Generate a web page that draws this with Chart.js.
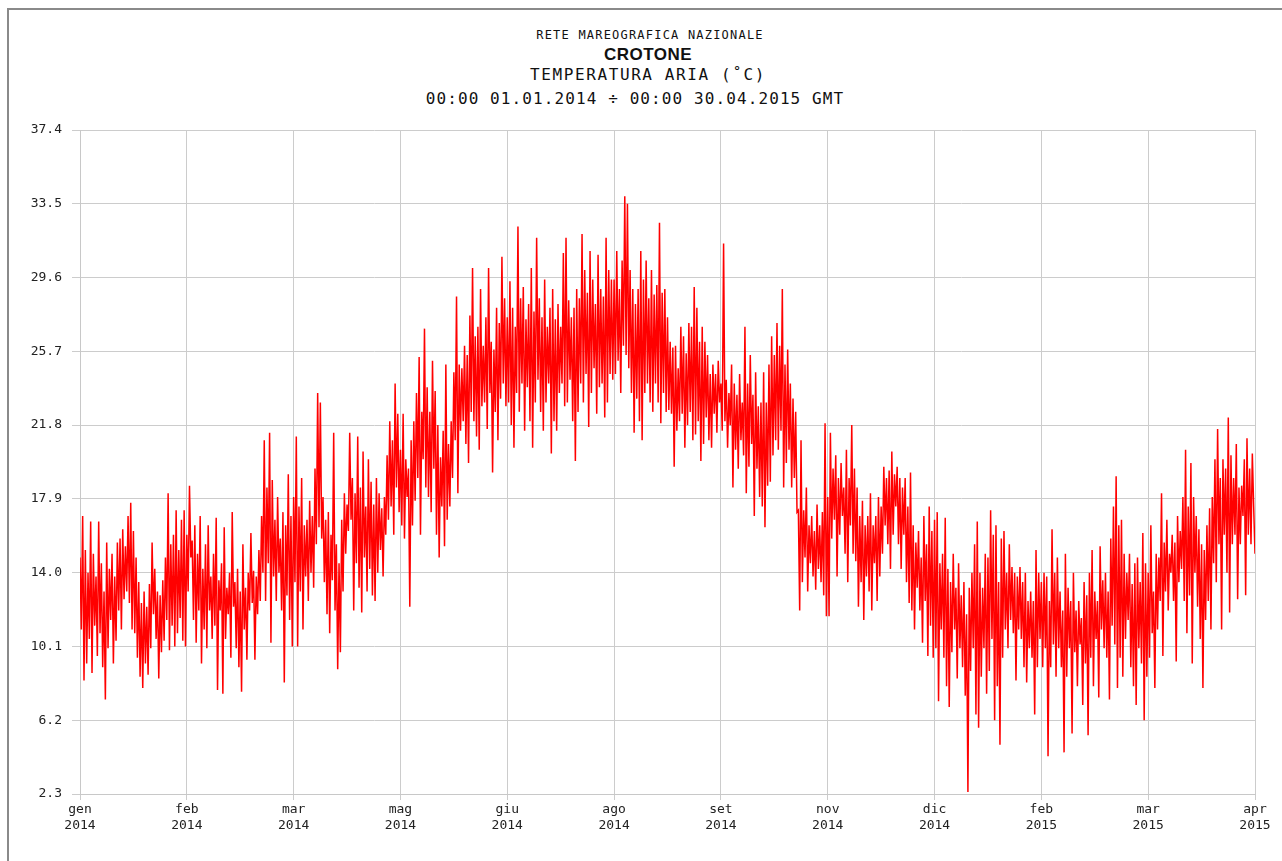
<!DOCTYPE html>
<html>
<head>
<meta charset="utf-8">
<script src="https://cdn.jsdelivr.net/npm/chart.js@4.4.1/dist/chart.umd.min.js"></script>
<style>
  body { margin: 0; background: #fff; }
  #wrap { position: relative; width: 1282px; height: 861px; overflow: hidden; }
  #frame { position: absolute; left: 7px; top: 8px; width: 1300px; height: 900px; border-left: 2px solid #8a8a8a; border-top: 2px solid #8a8a8a; }
  .t { position: absolute; left: 0; width: 1290px; text-align: center; color: #111; white-space: nowrap; }
  #t1 { top: 28px; font: 12px "DejaVu Sans Mono", monospace; letter-spacing: 1.2px; left: 5px; }
  #t2 { top: 45px; font: bold 17px "Liberation Sans", Arial, sans-serif; letter-spacing: 0.5px; left: 3px; }
  #t3 { top: 65px; font: 16px "DejaVu Sans Mono", monospace; letter-spacing: 1.6px; left: 3px; }
  #t4 { top: 89px; font: 16px "DejaVu Sans Mono", monospace; letter-spacing: 1.1px; left: -10px; }
  canvas { position: absolute; left: 0; top: 0; }
</style>
</head>
<body>
<div id="wrap">
  <div id="frame"></div>
  <div class="t" id="t1">RETE MAREOGRAFICA NAZIONALE</div>
  <div class="t" id="t2">CROTONE</div>
  <div class="t" id="t3">TEMPERATURA ARIA (˚C)</div>
  <div class="t" id="t4">00:00 01.01.2014 ÷ 00:00 30.04.2015 GMT</div>
  <canvas id="chart" width="1282" height="861"></canvas>
</div>
<script>
// tick labels of the time axis (one per grid line)
const monthLabels = ["gen", "feb", "mar", "mag", "giu", "ago", "set", "nov", "dic", "feb", "mar", "apr"];
const yearLabels = ["2014", "2014", "2014", "2014", "2014", "2014", "2014", "2014", "2014", "2015", "2015", "2015"];
const yTicks = [2.3, 6.2, 10.1, 14.0, 17.9, 21.8, 25.7, 29.6, 33.5, 37.4];

// air temperature, 40 high/low reading pairs per grid interval
const genHi = [14.8, 17.0, 15.2, 14.0, 16.7, 15.0, 13.8, 16.7, 14.5, 13.0, 15.6, 14.2, 15.0, 13.8, 15.6, 15.8, 16.3, 15.4, 17.0, 17.7,
  16.2, 14.8, 13.5, 12.4, 13.0, 12.2, 13.4, 15.6, 14.2, 13.0, 12.8, 13.6, 14.8, 18.2, 15.5, 16.0, 17.3, 15.2, 16.8, 17.3];
const genLo = [11.0, 8.3, 9.2, 10.5, 8.7, 11.2, 9.6, 10.8, 9.0, 7.3, 10.0, 11.5, 9.2, 10.4, 12.0, 11.0, 12.6, 13.0, 12.4, 11.0,
  10.8, 9.5, 8.5, 7.9, 9.2, 8.6, 10.0, 11.8, 10.5, 8.4, 9.8, 10.4, 11.5, 9.9, 11.2, 10.1, 10.8, 11.6, 10.4, 10.1];
const febHi = [16.0, 18.6, 15.7, 16.5, 15.0, 17.0, 14.2, 15.5, 16.5, 13.8, 15.0, 16.9, 13.6, 14.5, 16.4, 13.2, 14.0, 17.2, 13.5, 14.2,
  13.0, 15.5, 13.2, 14.0, 16.1, 14.1, 13.8, 15.2, 17.0, 21.0, 18.5, 21.4, 18.9, 16.8, 18.0, 15.8, 17.2, 16.5, 19.2, 17.0];
const febLo = [13.0, 14.8, 11.5, 10.3, 12.0, 9.2, 11.0, 10.0, 12.0, 10.5, 11.2, 7.8, 12.0, 7.6, 10.5, 11.8, 9.5, 12.2, 10.0, 9.0,
  7.7, 11.0, 9.4, 12.0, 12.4, 9.4, 11.8, 12.5, 14.0, 12.5, 14.5, 10.3, 13.8, 12.5, 14.0, 12.0, 8.2, 12.8, 11.5, 10.1];
const marHi = [18.0, 21.2, 17.5, 19.0, 16.5, 16.8, 17.8, 17.0, 19.5, 23.5, 23.0, 18.0, 16.8, 17.2, 16.0, 21.4, 15.5, 14.5, 16.8, 18.2,
  17.6, 21.4, 19.0, 18.2, 21.2, 18.5, 20.4, 17.5, 20.0, 18.8, 17.6, 19.0, 18.2, 17.4, 18.0, 20.2, 22.0, 21.0, 24.0, 22.4];
const marLo = [13.5, 10.1, 13.0, 11.0, 13.8, 12.5, 14.0, 13.2, 15.5, 16.4, 15.8, 13.5, 11.8, 10.8, 13.6, 12.0, 8.9, 9.8, 13.0, 15.0,
  16.2, 16.8, 12.0, 14.5, 13.2, 11.9, 14.8, 13.0, 14.2, 12.8, 12.5, 14.0, 15.2, 13.8, 16.0, 16.8, 17.5, 16.0, 18.5, 17.2];
const magHi = [20.5, 22.4, 20.0, 19.5, 21.0, 22.0, 23.5, 25.4, 22.5, 26.9, 23.8, 22.5, 25.2, 23.6, 21.8, 20.1, 21.5, 25.0, 20.8, 22.0,
  24.6, 28.6, 25.0, 24.8, 26.0, 25.5, 27.6, 30.1, 26.5, 27.0, 29.0, 26.0, 27.5, 30.1, 26.2, 25.8, 28.0, 27.2, 30.7, 28.5];
const magLo = [16.5, 15.8, 18.0, 12.2, 16.5, 17.8, 19.0, 16.0, 20.0, 18.5, 18.0, 17.2, 19.5, 16.0, 14.8, 17.5, 15.4, 16.8, 17.5, 19.0,
  21.0, 18.2, 21.5, 22.0, 20.8, 19.8, 22.5, 22.0, 21.2, 20.5, 22.8, 23.0, 21.6, 23.5, 19.3, 22.5, 21.0, 23.2, 24.0, 22.8];
const giuHi = [27.5, 29.4, 28.0, 27.0, 32.3, 28.5, 29.1, 27.4, 28.2, 30.1, 27.8, 31.7, 28.5, 27.5, 29.5, 27.0, 28.0, 29.0, 27.4, 28.2,
  27.0, 30.9, 31.7, 28.4, 27.5, 28.0, 29.0, 28.5, 31.9, 30.0, 28.8, 31.0, 29.5, 28.2, 30.8, 29.0, 28.6, 31.7, 30.0, 29.5];
const giuLo = [23.0, 21.8, 20.6, 23.5, 22.5, 24.0, 21.5, 23.8, 22.0, 20.6, 23.0, 24.2, 22.5, 21.5, 23.0, 24.0, 20.3, 22.0, 21.5, 23.5,
  24.0, 22.8, 23.0, 24.2, 22.0, 19.9, 22.5, 24.0, 23.0, 24.5, 21.7, 23.5, 24.8, 22.4, 23.8, 24.0, 22.2, 23.0, 24.5, 24.2];
const agoHi = [29.5, 31.0, 29.0, 30.5, 33.9, 33.5, 30.0, 29.0, 28.2, 29.0, 31.0, 29.5, 30.5, 28.5, 30.0, 28.7, 29.2, 32.5, 28.8, 29.0,
  27.5, 26.2, 25.9, 26.0, 24.8, 27.0, 26.5, 25.6, 27.2, 27.0, 29.1, 28.0, 26.2, 27.0, 26.2, 25.5, 24.5, 25.0, 24.5, 25.2];
const agoLo = [24.5, 25.2, 23.5, 26.0, 25.5, 24.8, 23.5, 21.4, 23.2, 22.0, 21.0, 23.5, 24.0, 23.0, 22.5, 24.0, 23.0, 21.9, 23.5, 22.5,
  22.6, 22.4, 19.6, 21.5, 22.0, 22.4, 20.6, 21.8, 22.5, 21.0, 21.3, 22.0, 19.9, 20.8, 22.2, 21.0, 20.6, 22.4, 21.4, 23.0];
const setHi = [24.0, 31.4, 24.2, 23.5, 25.0, 24.0, 23.4, 24.5, 23.0, 27.0, 24.0, 25.5, 23.4, 24.6, 22.8, 23.0, 24.6, 23.0, 25.0, 26.5,
  25.5, 27.2, 26.0, 29.0, 25.0, 25.8, 24.0, 23.2, 22.5, 17.3, 21.0, 17.3, 18.5, 16.5, 17.0, 16.2, 17.6, 16.5, 17.2, 21.9];
const setLo = [21.5, 22.0, 20.6, 21.8, 18.5, 20.5, 19.5, 21.0, 20.2, 18.2, 19.6, 20.8, 17.0, 19.5, 18.0, 17.5, 16.4, 18.6, 18.8, 20.2,
  21.0, 20.5, 21.5, 18.5, 19.8, 20.5, 18.5, 19.0, 17.2, 12.0, 13.5, 14.8, 13.0, 14.5, 13.8, 13.1, 14.2, 13.5, 12.8, 11.7];
const novHi = [18.0, 21.4, 19.5, 20.2, 19.0, 19.8, 18.5, 20.5, 19.0, 21.8, 19.5, 18.5, 17.0, 17.8, 16.5, 17.0, 18.2, 16.5, 17.0, 18.0,
  17.5, 19.6, 19.0, 19.4, 20.4, 19.2, 19.6, 19.0, 18.5, 19.0, 17.5, 19.3, 16.5, 15.6, 16.2, 14.8, 17.0, 15.5, 17.5, 16.2];
const novLo = [11.7, 15.8, 16.8, 13.8, 16.0, 17.0, 15.0, 13.5, 16.5, 15.0, 14.6, 12.2, 13.5, 11.5, 13.8, 13.0, 12.0, 14.5, 12.5, 13.8,
  15.0, 16.5, 15.5, 14.2, 16.0, 17.5, 15.5, 14.2, 16.0, 13.5, 12.4, 12.0, 11.0, 13.2, 12.0, 10.3, 12.5, 9.6, 11.2, 9.5];
const dicHi = [16.8, 17.2, 14.5, 15.0, 16.9, 14.2, 13.5, 15.0, 13.2, 14.5, 12.8, 13.5, 11.8, 13.2, 14.0, 15.5, 16.7, 14.0, 13.2, 15.0,
  14.8, 17.3, 16.0, 16.5, 13.5, 15.8, 16.2, 14.0, 15.5, 14.3, 14.0, 13.8, 14.3, 13.5, 14.0, 12.5, 13.0, 12.5, 15.2, 14.0];
const dicLo = [10.0, 7.2, 11.0, 9.5, 8.0, 6.9, 9.8, 11.0, 8.4, 10.0, 9.0, 7.5, 2.4, 8.8, 10.0, 6.5, 5.8, 8.5, 10.0, 7.6,
  8.8, 10.5, 6.2, 8.0, 4.9, 9.5, 11.0, 10.0, 11.5, 10.8, 8.3, 11.0, 10.5, 9.0, 8.2, 10.0, 9.5, 6.5, 9.0, 10.5];
const feb15Hi = [13.5, 14.0, 13.8, 12.5, 16.3, 14.0, 14.8, 13.0, 12.0, 15.0, 13.2, 12.5, 14.0, 12.0, 12.5, 11.6, 13.5, 12.8, 14.0, 15.2,
  13.0, 12.5, 15.4, 13.6, 14.0, 13.0, 15.8, 17.5, 19.1, 16.5, 16.8, 15.0, 14.0, 15.0, 13.4, 14.5, 14.8, 13.5, 16.1, 14.5];
const feb15Lo = [9.0, 10.0, 4.3, 9.0, 10.2, 8.5, 10.0, 9.0, 4.5, 8.5, 10.0, 5.5, 9.8, 8.0, 10.2, 7.0, 9.2, 5.4, 9.5, 8.0,
  10.5, 7.4, 11.0, 10.0, 9.5, 7.3, 11.2, 10.2, 7.9, 9.5, 8.5, 10.5, 11.5, 9.0, 8.0, 7.0, 10.0, 9.2, 6.2, 8.5];
const mar15Hi = [14.0, 16.5, 13.0, 15.0, 14.8, 18.2, 15.6, 16.8, 15.0, 16.0, 15.6, 17.0, 16.2, 18.0, 20.5, 17.5, 19.8, 18.0, 17.0, 16.3,
  15.5, 15.2, 16.5, 17.4, 18.0, 20.0, 21.6, 19.0, 20.0, 19.5, 22.2, 20.2, 19.0, 20.8, 18.5, 18.6, 20.0, 21.1, 19.5, 20.3];
const mar15Lo = [9.5, 10.8, 7.9, 11.0, 12.5, 9.6, 13.0, 12.0, 14.0, 12.5, 9.3, 13.5, 14.2, 12.5, 10.8, 12.8, 9.2, 14.0, 12.2, 10.5,
  7.9, 11.5, 12.5, 11.0, 14.5, 13.5, 15.5, 11.0, 16.0, 14.0, 11.9, 15.5, 16.0, 12.6, 15.5, 17.0, 12.8, 16.0, 15.5, 17.5];
const lastReading = 15.0;

const highs = [genHi, febHi, marHi, magHi, giuHi, agoHi, setHi, novHi, dicHi, feb15Hi, mar15Hi];
const lows = [genLo, febLo, marLo, magLo, giuLo, agoLo, setLo, novLo, dicLo, feb15Lo, mar15Lo];

const points = [];
highs.forEach((hi, s) => {
  hi.forEach((v, k) => {
    points.push({ x: s + k / 40, y: v });
    points.push({ x: s + (k + 0.5) / 40, y: lows[s][k] });
  });
});
points.push({ x: 11, y: lastReading });

const tickFont = { family: "DejaVu Sans Mono", size: 13 };

new Chart(document.getElementById('chart'), {
  type: 'line',
  data: {
    datasets: [{
      data: points,
      borderColor: '#ff0000',
      borderWidth: 1.5,
      pointRadius: 0,
      tension: 0,
      fill: false
    }]
  },
  options: {
    responsive: false,
    animation: false,
    layout: { padding: { top: 130, left: 0, right: 27, bottom: 17 } },
    plugins: { legend: { display: false }, tooltip: { enabled: false } },
    scales: {
      x: {
        type: 'linear',
        min: 0,
        max: 11,
        afterFit: s => { s.height = 50; },
        afterBuildTicks: s => { s.ticks = monthLabels.map((m, i) => ({ value: i })); },
        border: { color: '#c8c8c8' },
        grid: { color: '#cccccc', tickLength: 6 },
        ticks: {
          padding: 2,
          color: '#222',
          font: tickFont,
          maxRotation: 0,
          autoSkip: false,
          callback: (v, i) => [monthLabels[i], yearLabels[i]]
        }
      },
      y: {
        min: 2.3,
        max: 37.4,
        afterFit: s => { s.width = 80; },
        afterBuildTicks: s => { s.ticks = yTicks.map(v => ({ value: v })); },
        border: { color: '#c8c8c8' },
        grid: { color: '#cccccc', tickLength: 8 },
        ticks: {
          padding: 10,
          color: '#222',
          font: tickFont,
          callback: v => Number(v).toFixed(1)
        }
      }
    }
  }
});
</script>
</body>
</html>
